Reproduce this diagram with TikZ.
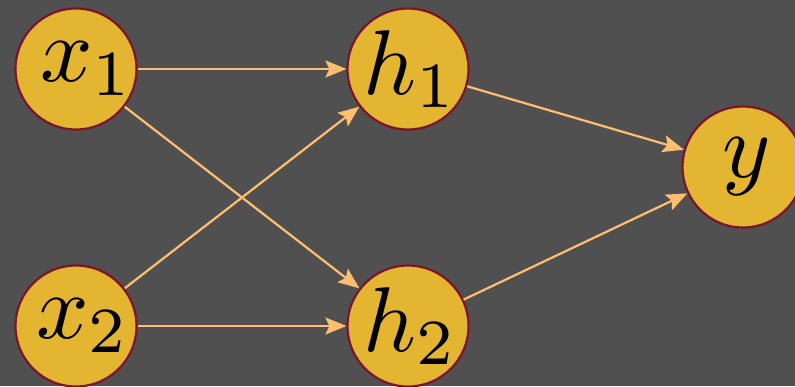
\documentclass[tikz,border=0pt]{standalone}
\usepackage{graphicx}
\usetikzlibrary{arrows.meta}
\definecolor{bg}{RGB}{80,80,80}
\definecolor{nodefill}{RGB}{227,181,48}
\definecolor{nodeborder}{RGB}{125,20,40}
\definecolor{edgecol}{RGB}{255,190,112}
\newcommand{\bigmath}[2]{\makebox[0pt][c]{\hspace*{#1pt}\scalebox{9.2}{$#2$}}}
\tikzset{
  neuron/.style={circle, draw=nodeborder, fill=nodefill, line width=2.2pt,
    minimum size=121pt, inner sep=0pt},
  edge/.style={draw=edgecol, line width=2.2pt, -{Stealth[length=21pt,width=17pt,inset=4pt]}}
}
\begin{document}
\begin{tikzpicture}[x=1pt,y=1pt]
\fill[bg] (0,0) rectangle (795,-386);
\useasboundingbox (0,0) rectangle (795,-386);
\node[neuron] (x1) at (76,-69) {\bigmath{22}{x_1}};
\node[neuron] (x2) at (76,-326) {\bigmath{14}{x_2}};
\node[neuron] (h1) at (408,-69) {\bigmath{6}{h_1}};
\node[neuron] (h2) at (408,-326) {\bigmath{6}{h_2}};
\node[neuron] (y) at (743,-167) {\bigmath{8}{y}};
\draw[edge] (x1) -- (h1);
\draw[edge] (x1) -- (h2);
\draw[edge] (x2) -- (h1);
\draw[edge] (x2) -- (h2);
\draw[edge] (h1) -- (y);
\draw[edge] (h2) -- (y);
\end{tikzpicture}
\end{document}
